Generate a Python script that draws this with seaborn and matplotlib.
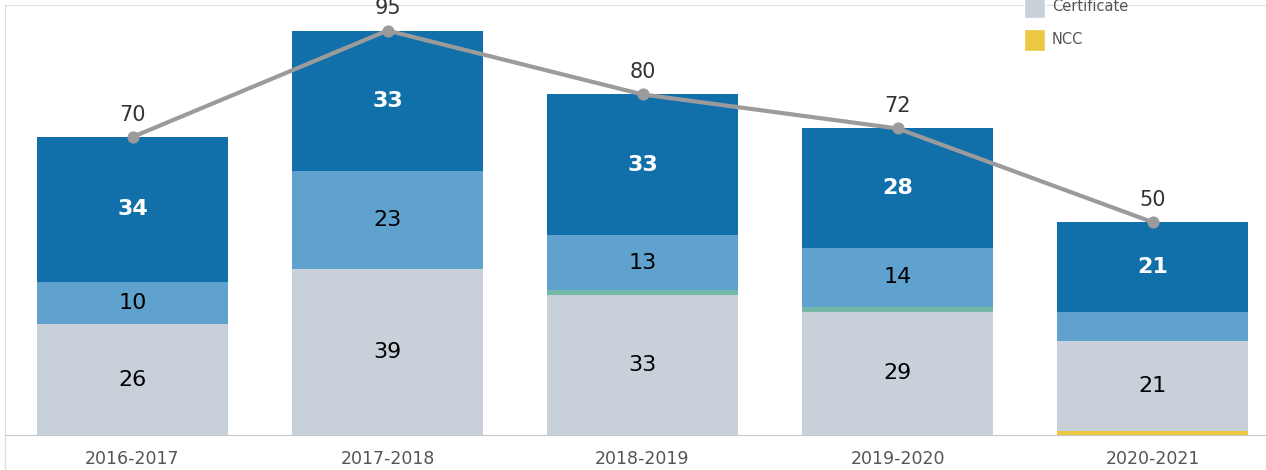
import numpy as np
import pandas as pd
import seaborn as sns
import matplotlib.pyplot as plt
from matplotlib.patches import Patch
from matplotlib.lines import Line2D

years = ["2016-2017", "2017-2018", "2018-2019", "2019-2020", "2020-2021"]
ncc = [0, 0, 0, 0, 1]
certificate = [26, 39, 33, 29, 21]
adv_certificate = [0, 0, 1, 1, 0]
diploma = [10, 23, 13, 14, 7]
degree = [34, 33, 33, 28, 21]
totals = [70, 95, 80, 72, 50]

layers = [
    ("NCC", ncc, "#EBC742", "black"),
    ("Certificate", certificate, "#C8D0D9", "black"),
    ("Advanced Certificate", adv_certificate, "#74B8A8", "black"),
    ("Diploma", diploma, "#5FA2CE", "black"),
    ("Degree", degree, "#1170AA", "white"),
]

sns.set_style("white")
plt.rcParams["font.family"] = ["DejaVu Sans"]

fig = plt.figure(figsize=(12.66, 4.70), dpi=100)
ax = fig.add_axes([5 / 1266, 35 / 470, 1275 / 1266, 430 / 470])

df = pd.DataFrame({"year": years})
cum = np.zeros(len(years))
bottoms = []
for name, vals, color, tc in layers:
    bottoms.append(cum.copy())
    cum = cum + np.array(vals)
    df[name] = cum

# cumulative bars, tallest first so the shorter ones sit on top
for name, vals, color, tc in reversed(layers):
    sns.barplot(data=df, x="year", y=name, color=color, width=0.75,
                saturation=1, ax=ax, edgecolor="none")

# segment labels (small segments get none, like the original)
for (name, vals, color, tc), bot in zip(layers, bottoms):
    for i, v in enumerate(vals):
        if v >= 8:
            ax.text(i, bot[i] + v / 2, str(v), ha="center", va="center",
                    fontsize=16, color=tc,
                    fontweight="bold" if tc == "white" else "normal")

# total line
sns.lineplot(x=np.arange(len(years)), y=totals, color="#9B9B9B", linewidth=3,
             marker="o", markersize=8, markeredgecolor="#9B9B9B", ax=ax)
for i, t in enumerate(totals):
    ax.text(i, t + 5.2, str(t), ha="center", va="center", fontsize=15,
            color="#333333")

ax.set_xlim(-0.5, 4.5)
ax.set_ylim(0, 101)
ax.set_xlabel("")
ax.set_ylabel("")
ax.set_yticks([])
ax.set_xticks(range(len(years)))
ax.set_xticklabels(years, fontsize=12.5, color="#555555")
ax.tick_params(axis="x", which="major", length=0, pad=11)
ax.set_xticks([0.5, 1.5, 2.5, 3.5], minor=True)
ax.tick_params(axis="x", which="minor", length=5, color="#DDDDDD")
for s in ["left", "top"]:
    ax.spines[s].set_color("#DDDDDD")
ax.spines["bottom"].set_color("#C8C8C8")
ax.spines["right"].set_visible(False)

fig.add_artist(Line2D([5 / 1266, 5 / 1266], [0, 35 / 470], color="#DDDDDD",
                      linewidth=1, transform=fig.transFigure))

handles = [Patch(facecolor="#C8D0D9", label="Certificate"),
           Patch(facecolor="#EBC742", label="NCC")]
fig.legend(handles=handles, loc="upper left",
           bbox_to_anchor=(1011 / 1266, 1 + 18 / 470),
           frameon=False, fontsize=10.5, labelcolor="#555555", handlelength=1.4,
           handleheight=2.0, handletextpad=0.5, labelspacing=0.75)

fig.savefig("out.png", dpi=100)
